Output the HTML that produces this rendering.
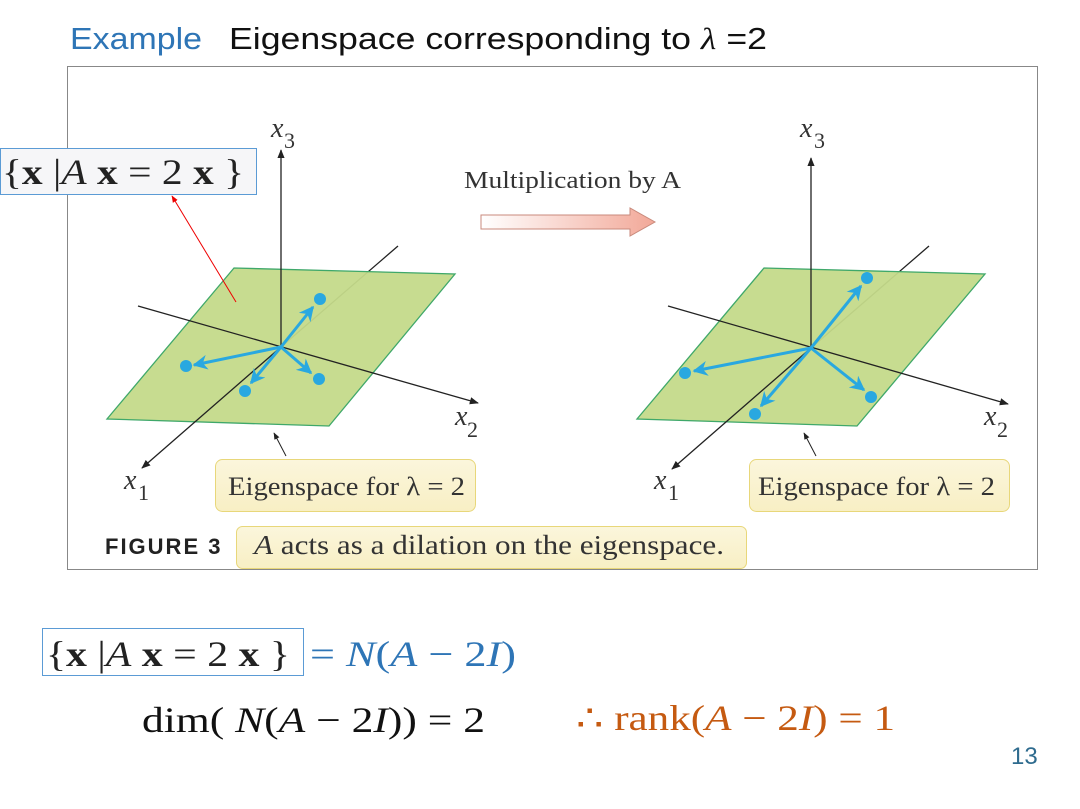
<!DOCTYPE html>
<html><head><meta charset="utf-8"><style>
html,body{margin:0;padding:0;background:#fff;}
svg{display:block;}
</style></head><body>
<svg width="1080" height="809" viewBox="0 0 1080 809" xmlns="http://www.w3.org/2000/svg">
<defs>
<marker id="ah" viewBox="0 0 10 10" refX="9" refY="5" markerWidth="7" markerHeight="7" orient="auto"><path d="M0,1 L10,5 L0,9 z" fill="#222"/></marker>
<marker id="bh" viewBox="0 0 10 10" refX="9" refY="5" markerWidth="5" markerHeight="5" orient="auto"><path d="M0,0 L10,5 L0,10 L3,5 z" fill="#29a8e0"/></marker>
<marker id="rh" viewBox="0 0 10 10" refX="9" refY="5" markerWidth="7" markerHeight="7" orient="auto"><path d="M0,1 L10,5 L0,9 z" fill="#e00"/></marker>
<linearGradient id="pk" x1="0" x2="1"><stop offset="0" stop-color="#fff"/><stop offset="1" stop-color="#f2a898"/></linearGradient>
<linearGradient id="yb" x1="0" y1="0" x2="0" y2="1"><stop offset="0" stop-color="#fbf6dc"/><stop offset="1" stop-color="#f8efc4"/></linearGradient>
</defs>
<text x="70" y="49" font-family="Liberation Sans,sans-serif" font-size="31" fill="#2e75b6" textLength="132" lengthAdjust="spacingAndGlyphs">Example</text>
<text x="229" y="49" font-family="Liberation Sans,sans-serif" font-size="31" fill="#111" textLength="538" lengthAdjust="spacingAndGlyphs">Eigenspace corresponding to <tspan font-family="Liberation Serif,serif" font-style="italic">λ</tspan> =2</text>
<rect x="67.5" y="66.5" width="970" height="503" fill="#fff" stroke="#888" stroke-width="1"/>

<g>
<line x1="398" y1="246" x2="281" y2="347" stroke="#222" stroke-width="1.3"/>
<polygon points="234,268 455,274 329,426 107,419" fill="#c4da8a" fill-opacity="0.95" stroke="#3fa86a" stroke-width="1.3"/>
<line x1="138" y1="306" x2="478" y2="403" stroke="#222" stroke-width="1.3" marker-end="url(#ah)"/>
<line x1="281" y1="347" x2="142" y2="468" stroke="#222" stroke-width="1.3" marker-end="url(#ah)"/>
<line x1="281" y1="347" x2="281" y2="150" stroke="#222" stroke-width="1.3" marker-end="url(#ah)"/>
<g stroke="#29a8e0" stroke-width="3" marker-end="url(#bh)">
<line x1="281" y1="347" x2="313" y2="307"/><line x1="281" y1="347" x2="194" y2="365"/>
<line x1="281" y1="347" x2="251" y2="383"/><line x1="281" y1="347" x2="311" y2="373"/></g>
<g fill="#29a8e0"><circle cx="320" cy="299" r="6"/><circle cx="186" cy="366" r="6"/><circle cx="245" cy="391" r="6"/><circle cx="319" cy="379" r="6"/></g>
<line x1="236" y1="302" x2="172" y2="196" stroke="#e00" stroke-width="1" marker-end="url(#rh)"/>
<g font-family="Liberation Serif,serif" font-size="28" fill="#333" font-style="italic">
<text x="271" y="137">x</text><text x="455" y="425">x</text><text x="124" y="489">x</text></g>
<g font-family="Liberation Serif,serif" font-size="22" fill="#333">
<text x="284" y="148">3</text><text x="467" y="437">2</text><text x="138" y="500">1</text></g>
<line x1="286" y1="456" x2="274" y2="433" stroke="#222" stroke-width="1" marker-end="url(#ah)"/>
<rect x="215.5" y="459.5" width="260" height="52" rx="7" fill="url(#yb)" stroke="#e8d77a"/>
<text x="228" y="495" font-family="Liberation Serif,serif" font-size="26" fill="#333" textLength="237" lengthAdjust="spacingAndGlyphs">Eigenspace for λ = 2</text>
</g>

<g>
<line x1="929" y1="246" x2="811" y2="348" stroke="#222" stroke-width="1.3"/>
<polygon points="764,268 985,274 857,426 637,419" fill="#c4da8a" fill-opacity="0.95" stroke="#3fa86a" stroke-width="1.3"/>
<line x1="668" y1="306" x2="1008" y2="404" stroke="#222" stroke-width="1.3" marker-end="url(#ah)"/>
<line x1="811" y1="348" x2="672" y2="469" stroke="#222" stroke-width="1.3" marker-end="url(#ah)"/>
<line x1="811" y1="348" x2="811" y2="158" stroke="#222" stroke-width="1.3" marker-end="url(#ah)"/>
<g stroke="#29a8e0" stroke-width="3" marker-end="url(#bh)">
<line x1="811" y1="348" x2="861" y2="286"/><line x1="811" y1="348" x2="694" y2="371"/>
<line x1="811" y1="348" x2="761" y2="406"/><line x1="811" y1="348" x2="864" y2="390"/></g>
<g fill="#29a8e0"><circle cx="867" cy="278" r="6"/><circle cx="685" cy="373" r="6"/><circle cx="755" cy="414" r="6"/><circle cx="871" cy="397" r="6"/></g>
<g font-family="Liberation Serif,serif" font-size="28" fill="#333" font-style="italic">
<text x="800" y="137">x</text><text x="984" y="425">x</text><text x="654" y="489">x</text></g>
<g font-family="Liberation Serif,serif" font-size="22" fill="#333">
<text x="814" y="148">3</text><text x="997" y="437">2</text><text x="668" y="500">1</text></g>
<line x1="816" y1="456" x2="804" y2="433" stroke="#222" stroke-width="1" marker-end="url(#ah)"/>
<rect x="749.5" y="459.5" width="260" height="52" rx="7" fill="url(#yb)" stroke="#e8d77a"/>
<text x="758" y="495" font-family="Liberation Serif,serif" font-size="26" fill="#333" textLength="237" lengthAdjust="spacingAndGlyphs">Eigenspace for λ = 2</text>
</g>

<text x="464" y="188" font-family="Liberation Serif,serif" font-size="24" fill="#333" textLength="217" lengthAdjust="spacingAndGlyphs">Multiplication by A</text>
<path d="M481,215 L630,215 L630,208 L655,222 L630,236 L630,229 L481,229 Z" fill="url(#pk)" stroke="#c98a7c" stroke-width="1"/>

<text x="105" y="554" font-family="Liberation Sans,sans-serif" font-weight="bold" font-size="22" letter-spacing="2" fill="#222">FIGURE 3</text>
<rect x="236.5" y="526.5" width="510" height="42" rx="6" fill="url(#yb)" stroke="#e8d77a"/>
<text x="254" y="554" font-family="Liberation Serif,serif" font-size="27" fill="#333" textLength="470" lengthAdjust="spacingAndGlyphs"><tspan font-style="italic">A</tspan> acts as a dilation on the eigenspace.</text>

<rect x="0.5" y="148.5" width="256" height="46" fill="#f6f6f8" stroke="#5b9bd5"/>
<text x="2" y="184" font-family="Liberation Serif,serif" font-size="36" fill="#222" textLength="242" lengthAdjust="spacingAndGlyphs">{<tspan font-weight="bold">x</tspan> |<tspan font-style="italic">A</tspan> <tspan font-weight="bold">x</tspan>  = 2 <tspan font-weight="bold">x</tspan> }</text>

<rect x="42.5" y="628.5" width="261" height="47" fill="#fff" stroke="#5b9bd5"/>
<text x="46" y="666" font-family="Liberation Serif,serif" font-size="36" fill="#222" textLength="244" lengthAdjust="spacingAndGlyphs">{<tspan font-weight="bold">x</tspan> |<tspan font-style="italic">A</tspan> <tspan font-weight="bold">x</tspan>  = 2 <tspan font-weight="bold">x</tspan> }</text>
<text x="310" y="666" font-family="Liberation Serif,serif" font-size="36" fill="#2e75b6" textLength="206" lengthAdjust="spacingAndGlyphs">= <tspan font-style="italic">N</tspan>(<tspan font-style="italic">A</tspan> − 2<tspan font-style="italic">I</tspan>)</text>
<text x="142" y="732" font-family="Liberation Serif,serif" font-size="36" fill="#111" textLength="343" lengthAdjust="spacingAndGlyphs">dim( <tspan font-style="italic">N</tspan>(<tspan font-style="italic">A</tspan> − 2<tspan font-style="italic">I</tspan>)) = 2</text>
<text x="576" y="730" font-family="Liberation Serif,serif" font-size="36" fill="#c55a11" textLength="319" lengthAdjust="spacingAndGlyphs">∴ rank(<tspan font-style="italic">A</tspan> − 2<tspan font-style="italic">I</tspan>) = 1</text>
<text x="1011" y="764" font-family="Liberation Sans,sans-serif" font-size="24" fill="#2e6b8e">13</text>
</svg>
</body></html>
